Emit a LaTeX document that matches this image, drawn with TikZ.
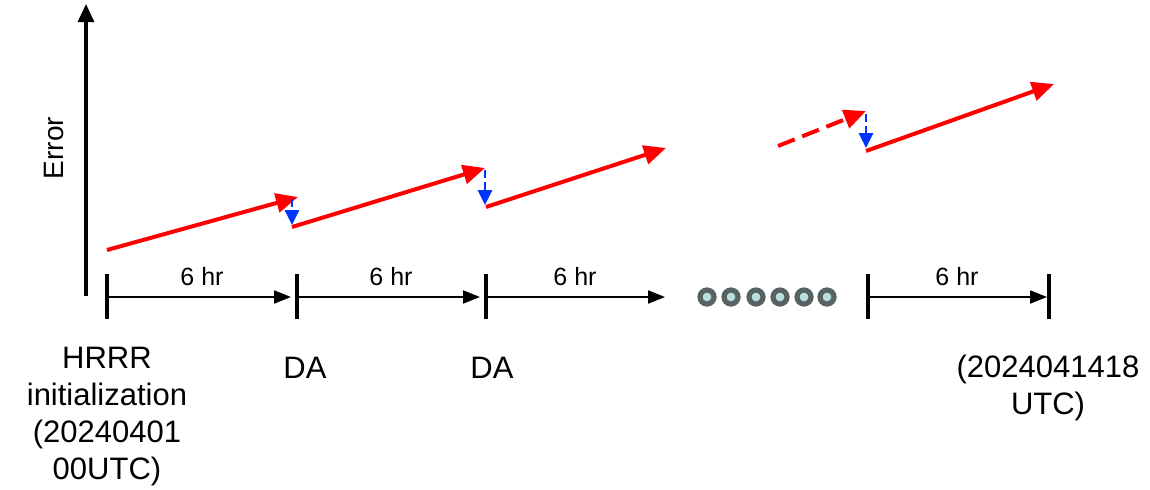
\documentclass[tikz,border=0pt]{standalone}
\usepackage{fontspec}
\setmainfont{Liberation Sans}
\usetikzlibrary{arrows.meta}
\definecolor{errred}{RGB}{255,0,0}
\definecolor{dablue}{RGB}{0,51,255}
\definecolor{dotring}{RGB}{86,99,97}
\definecolor{dotfill}{RGB}{185,223,224}
\tikzset{
  errline/.style={draw=errred, line width=2pt, -{Triangle[length=11pt,width=9.5pt]}},
  daline/.style={draw=dablue, line width=1.4pt, dash pattern=on 4pt off 2pt, -{Triangle[length=7.5pt,width=7pt]}},
  span/.style={draw=black, line width=1pt, -{Triangle[length=8.5pt,width=6.5pt]}},
  tick/.style={draw=black, line width=1.6pt},
  lbl/.style={font=\fontsize{15.5pt}{18.5pt}\selectfont, align=center, inner sep=0pt},
  hr/.style={font=\fontsize{12.5pt}{14pt}\selectfont, inner sep=0pt},
  dot/.style={circle, draw=dotring, fill=dotfill, line width=2.6pt, minimum size=7pt, inner sep=0pt},
}
\begin{document}
\begin{tikzpicture}[x=0.5pt, y=-0.5pt]
\useasboundingbox (0,0) rectangle (1150,489);

% error axis
\coordinate (axb) at (86,296);
\coordinate (axt) at (86,4);
\draw[line width=1.6pt, -{Triangle[length=9pt,width=8pt]}] (axb) -- (axt);
\node[hr, font=\fontsize{14pt}{16pt}\selectfont, rotate=90] (err) at (54,148) {Error};

% time points on the line
\coordinate (t0) at (107,297);
\coordinate (t1) at (297,297);
\coordinate (t2) at (486,297);
\coordinate (t4) at (868,297);
\coordinate (t5) at (1049,297);
\coordinate (t3) at (665,297);
\foreach \p in {t0,t1,t2,t4,t5}
  \draw[tick] ([yshift=11.5pt]\p) -- ([yshift=-11pt]\p);
\draw[span] (t0) -- ([xshift=-3pt]t1);
\draw[span] (t1) -- ([xshift=-3pt]t2);
\draw[span] (t2) -- (t3);
\draw[span] (t4) -- ([xshift=-1pt]t5);
\node[hr] (h1) at (202,277) {6 hr};
\node[hr] (h2) at (391,277) {6 hr};
\node[hr] (h3) at (575,277) {6 hr};
\node[hr] (h4) at (957,277) {6 hr};

% omitted cycles
\foreach \i/\x in {1/707,2/731,3/756,4/780,5/804,6/827}
  \node[dot] (d\i) at (\x,297) {};

% forecast error growth
\coordinate (a0) at (107,250);
\coordinate (a1) at (298,197);
\coordinate (b1) at (292,227);
\coordinate (a2) at (485,168);
\coordinate (b2) at (486,207);
\coordinate (a3) at (666,148);
\coordinate (c3) at (778,146);
\coordinate (a4) at (866,111);
\coordinate (b4) at (866,151);
\coordinate (a5) at (1054,84);
\draw[errline] (a0) -- (a1);
\draw[errline] (b1) -- (a2);
\draw[errline] (b2) -- (a3);
\draw[errline, dash pattern=on 9pt off 4pt] (c3) -- (a4);
\draw[errline] (b4) -- (a5);

% analysis corrections
\draw[daline] (292,199) -- (292,225);
\draw[daline] (485,170) -- (485,205);
\draw[daline] (866,114) -- (866,148);

% labels
\node[lbl, anchor=north] (init) at (107,347) {HRRR\\initialization\\(20240401\\00UTC)};
\node[lbl, anchor=north] (da1) at (305,357) {DA};
\node[lbl, anchor=north] (da2) at (492,357) {DA};
\node[lbl, anchor=north] (end) at (1048,355) {(2024041418\\UTC)};
\end{tikzpicture}
\end{document}
